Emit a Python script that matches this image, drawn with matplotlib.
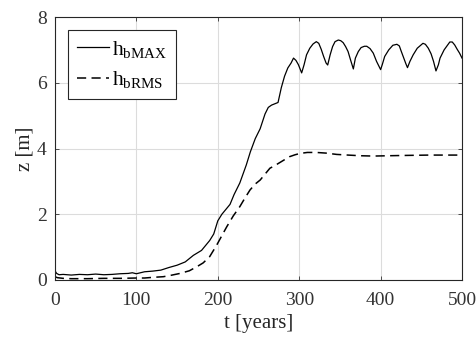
import matplotlib.pyplot as plt

plt.rcParams['font.family'] = ['Liberation Serif', 'DejaVu Serif']
plt.rcParams['mathtext.fontset'] = 'custom'
plt.rcParams['mathtext.rm'] = 'Liberation Serif'
plt.rcParams['mathtext.it'] = 'Liberation Serif:italic'

# h_bMAX
t_max = [0, 2, 5, 10, 20, 30, 40, 50, 60, 70, 80, 90, 95, 100, 105, 110, 120, 130,
         140, 150, 160, 170, 180, 190, 195, 200, 205, 210, 215, 220, 227, 235, 240,
         246, 252, 258, 262, 266, 270, 274, 278, 282, 286, 290, 293, 296, 299, 303,
         306, 309, 313, 317, 321, 324, 327, 330, 333, 335, 338, 341, 344, 348, 351,
         354, 357, 360, 363, 366.5, 369, 372.6, 376, 380, 383, 387, 391, 395, 398,
         400, 402, 405, 410, 415, 420, 423, 425, 428, 431, 433, 436, 440, 445, 452,
         455, 458.6, 462, 465, 468, 471, 473, 478, 485, 488, 491, 494, 497, 500]
h_max = [0.28, 0.2, 0.16, 0.17, 0.15, 0.17, 0.16, 0.18, 0.16, 0.17, 0.19, 0.2, 0.22,
         0.19, 0.22, 0.25, 0.27, 0.3, 0.38, 0.45, 0.55, 0.75, 0.9, 1.2, 1.4, 1.8, 2.0,
         2.15, 2.3, 2.6, 2.95, 3.5, 3.9, 4.3, 4.6, 5.05, 5.25, 5.32, 5.36, 5.4, 5.85,
         6.2, 6.45, 6.6, 6.75, 6.68, 6.55, 6.3, 6.55, 6.85, 7.05, 7.18, 7.25, 7.2,
         7.02, 6.8, 6.6, 6.54, 6.85, 7.1, 7.25, 7.3, 7.28, 7.22, 7.1, 6.95, 6.7, 6.42,
         6.75, 6.95, 7.07, 7.11, 7.11, 7.04, 6.9, 6.65, 6.5, 6.4, 6.55, 6.8, 7.0, 7.14,
         7.17, 7.12, 6.98, 6.78, 6.58, 6.46, 6.65, 6.85, 7.05, 7.2, 7.17, 7.05, 6.88,
         6.65, 6.36, 6.55, 6.75, 7.0, 7.24, 7.24, 7.15, 7.02, 6.9, 6.75]

# h_bRMS
t_rms = [0, 3, 10, 20, 40, 60, 80, 100, 110, 120, 133, 140, 153.6, 165, 174, 182,
         190, 198.6, 205, 211, 219, 227, 233, 239.6, 246, 252, 258, 264, 270, 278,
         288, 295, 301, 310, 321, 333, 346, 360, 375, 391, 410, 432, 460, 480, 500]
h_rms = [0.1, 0.07, 0.05, 0.04, 0.04, 0.05, 0.05, 0.06, 0.06, 0.08, 0.1, 0.13, 0.2,
         0.28, 0.4, 0.52, 0.71, 1.06, 1.35, 1.62, 1.95, 2.23, 2.48, 2.74, 2.92, 3.04,
         3.22, 3.4, 3.48, 3.6, 3.75, 3.81, 3.85, 3.88, 3.88, 3.86, 3.82, 3.8, 3.78,
         3.77, 3.78, 3.79, 3.8, 3.8, 3.8]

x_ticks = [0, 100, 200, 300, 400, 500]
y_ticks = [0, 2, 4, 6, 8]

fig = plt.figure(figsize=(4.77, 3.43), dpi=100)
ax = fig.add_axes([0.1153, 0.1837, 0.8533, 0.7667])

ax.plot(t_max, h_max, color='black', lw=0.9, label=r'h$_{\mathrm{bMAX}}$')
ax.plot(t_rms, h_rms, color='black', lw=1.1, linestyle=(0, (6, 3.5)),
        label=r'h$_{\mathrm{bRMS}}$')

ax.set_xlim(0, 500)
ax.set_ylim(0, 8)
ax.set_xticks(x_ticks)
ax.set_yticks(y_ticks)
ax.grid(True, color='#dcdcdc', lw=0.8)
ax.set_axisbelow(True)

ax.tick_params(direction='in', top=True, right=True, length=3, width=0.6,
               labelsize=14, colors='#333333')
ax.tick_params(axis='x', pad=9)
ax.tick_params(axis='y', pad=6)
for s in ax.spines.values():
    s.set_color('#262626')
    s.set_linewidth(0.8)

ax.set_xlabel('t [years]', fontsize=15, color='#262626', labelpad=3)
ax.set_ylabel('z [m]', fontsize=15, color='#262626', labelpad=2)

leg = ax.legend(loc='upper left', fontsize=15.5, fancybox=False, framealpha=1,
                edgecolor='#262626', handlelength=1.5, handletextpad=0.15,
                borderpad=0.4, labelspacing=0.45, borderaxespad=0.6)
leg.get_frame().set_linewidth(0.8)

fig.savefig('out.png', dpi=100)
